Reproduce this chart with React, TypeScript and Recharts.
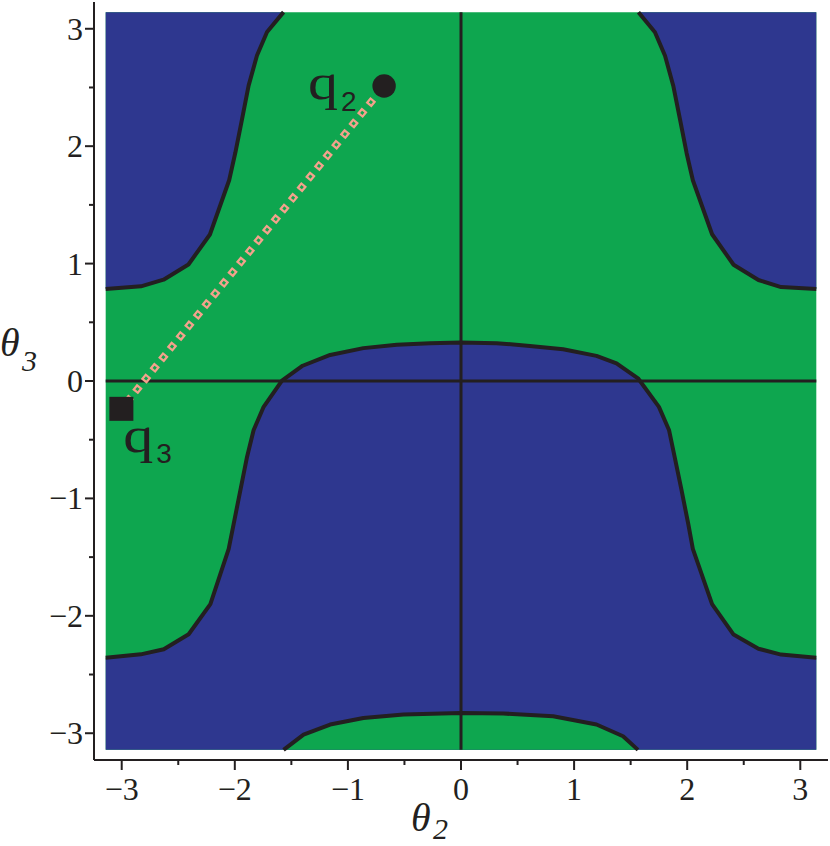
import React from 'react';
import { ComposedChart, Area, Line, Scatter, XAxis, YAxis } from 'recharts';

// ---------- data ----------
const regionMin = -3.1416;
const regionMax = 3.1416;
const regionX = [-3.1416, 3.1416];
const regionTop = [3.1416, 3.1416];

// upper boundary (top blue corners / green)
const topCurveX = [-3.1416, -2.83, -2.63, -2.41, -2.22, -2.05, -1.995, -1.936, -1.878, -1.804, -1.715, -1.569, 0, 1.569, 1.715, 1.804, 1.878, 1.936, 1.995, 2.05, 2.22, 2.41, 2.63, 2.83, 3.1416];
const topCurveY = [0.784, 0.806, 0.863, 0.992, 1.248, 1.71, 1.946, 2.231, 2.516, 2.772, 2.972, 3.1416, null, 3.1416, 2.97, 2.77, 2.51, 2.23, 1.94, 1.71, 1.25, 0.99, 0.86, 0.8, 0.784];

// middle boundary (central blue blob / green)
const midCurveX = [-3.1416, -2.831, -2.628, -2.408, -2.216, -2.054, -2.01, -1.951, -1.892, -1.834, -1.745, -1.583, -1.4, -1.157, -0.863, -0.568, -0.274, 0, 0.315, 0.609, 0.903, 1.198, 1.375, 1.565, 1.75, 1.84, 1.89, 1.95, 2.01, 2.05, 2.22, 2.41, 2.63, 2.83, 3.1416];
const midCurveY = [-2.357, -2.328, -2.285, -2.157, -1.9, -1.43, -1.216, -0.932, -0.647, -0.419, -0.22, 0.003, 0.13, 0.222, 0.28, 0.308, 0.322, 0.327, 0.322, 0.299, 0.271, 0.214, 0.151, 0.023, -0.22, -0.42, -0.65, -0.93, -1.22, -1.43, -1.9, -2.16, -2.28, -2.33, -2.357];

// bottom cap (green) boundary
const capCurveX = [-1.569, -1.392, -1.157, -0.863, -0.509, 0, 0.373, 0.815, 1.198, 1.433, 1.565];
const capCurveY = [-3.1416, -3.012, -2.926, -2.87, -2.841, -2.827, -2.832, -2.855, -2.926, -3.026, -3.1416];

// configurations
const q2Point = { x: -0.68, y: 2.513 };
const q3Point = { x: -3.003, y: -0.237 };

const axisTicks = [-3, -2.5, -2, -1.5, -1, -0.5, 0, 0.5, 1, 1.5, 2, 2.5, 3];
const xDomain = [-3.245, 3.245];
const yDomain = [-3.228, 3.228];

// ---------- styles ----------
const GREEN = '#0ea64f';
const BLUE = '#2e378f';
const INK = '#231f20';
const PINK = '#f4a28c';
const SERIF = '"Liberation Serif", "Times New Roman", serif';
const SANS = '"Liberation Sans", Arial, sans-serif';

const rows = (xs: number[], ys: (number | null)[]) => xs.map((x, i) => ({ x, y: ys[i] }));

const regionRows = rows(regionX, regionTop);
const topRows = rows(topCurveX, topCurveY);
const midRows = rows(midCurveX, midCurveY);
const capRows = rows(capCurveX, capCurveY);
const vAxisRows = [{ x: 0, y: regionMin }, { x: 0, y: regionMax }];
const hAxisRows = [{ x: regionMin, y: 0 }, { x: regionMax, y: 0 }];
const pathRows = [q3Point, q2Point];

const fmt = (v: number) => (v < 0 ? '\u2212' + Math.abs(v) : String(v));

const XTick = (props: any) => {
  const { x, y, payload } = props;
  const v = payload.value;
  const major = Number.isInteger(v);
  return (
    <g>
      <line x1={x} y1={y} x2={x} y2={y + (major ? 10 : 5)} stroke={INK} strokeWidth={2} />
      {major && (
        <text x={x} y={y + 40} textAnchor="middle" fontFamily={SERIF} fontSize={32} fill={INK}>
          {fmt(v)}
        </text>
      )}
    </g>
  );
};

const YTick = (props: any) => {
  const { x, y, payload } = props;
  const v = payload.value;
  const major = Number.isInteger(v);
  return (
    <g>
      <line x1={x - (major ? 9 : 5)} y1={y} x2={x} y2={y} stroke={INK} strokeWidth={2} />
      {major && (
        <text x={x - 11} y={y + 11} textAnchor="end" fontFamily={SERIF} fontSize={32} fill={INK}>
          {fmt(v)}
        </text>
      )}
    </g>
  );
};

const xTitle = (props: any) => {
  const vb = props.viewBox;
  const x0 = vb.x + vb.width / 2 - 50;
  const y0 = vb.y + 71;
  return (
    <g>
      <text x={x0} y={y0} fontFamily={SERIF} fontStyle="italic" fontSize={40} fill={INK}>θ</text>
      <text x={x0 + 22} y={y0 + 8} fontFamily={SERIF} fontStyle="italic" fontSize={30} fill={INK}>2</text>
    </g>
  );
};

const yTitle = (props: any) => {
  const vb = props.viewBox;
  const x0 = vb.x;
  const y0 = 356;
  return (
    <g>
      <text x={x0} y={y0} fontFamily={SERIF} fontStyle="italic" fontSize={40} fill={INK}>θ</text>
      <text x={x0 + 22} y={y0 + 15} fontFamily={SERIF} fontStyle="italic" fontSize={30} fill={INK}>3</text>
    </g>
  );
};

const Q2Shape = (props: any) => {
  const { cx, cy } = props;
  return (
    <g>
      <circle cx={cx} cy={cy} r={11.7} fill={INK} />
      <text x={cx - 76} y={cy + 13} fontFamily={SERIF} fontSize={50} fill={INK} transform={`translate(${cx - 76} 0) scale(1.2 1) translate(${-(cx - 76)} 0)`}>q</text>
      <text x={cx - 43} y={cy + 25} fontFamily={SANS} fontSize={28} fill={INK}>2</text>
    </g>
  );
};

const Q3Shape = (props: any) => {
  const { cx, cy } = props;
  return (
    <g>
      <rect x={cx - 12} y={cy - 12} width={24} height={24} fill={INK} />
      <text x={cx + 2} y={cy + 43} fontFamily={SERIF} fontSize={50} fill={INK} transform={`translate(${cx + 2} 0) scale(1.2 1) translate(${-(cx + 2)} 0)`}>q</text>
      <text x={cx + 35} y={cy + 54} fontFamily={SANS} fontSize={28} fill={INK}>3</text>
    </g>
  );
};

export default function App() {
  return (
    <div style={{ position: 'absolute', left: 0, top: 0, background: '#fff' }}>
      <ComposedChart width={830} height={846} margin={{ top: 2, right: 2, bottom: 0, left: 0 }}>
        <XAxis
          dataKey="x"
          type="number"
          domain={xDomain}
          ticks={axisTicks}
          interval={0}
          height={86}
          tickSize={0}
          tickMargin={0}
          tickLine={false}
          axisLine={{ stroke: INK, strokeWidth: 2 }}
          tick={<XTick />}
          label={xTitle}
        />
        <YAxis
          dataKey="y"
          type="number"
          domain={yDomain}
          ticks={axisTicks}
          interval={0}
          width={94}
          tickSize={0}
          tickMargin={0}
          tickLine={false}
          axisLine={{ stroke: INK, strokeWidth: 2 }}
          tick={<YTick />}
          label={yTitle}
        />
        <XAxis xAxisId="top" orientation="top" dataKey="x" type="number" domain={xDomain} height={0} tick={false} tickLine={false} axisLine={{ stroke: INK, strokeWidth: 2 }} />
        <YAxis yAxisId="right" orientation="right" dataKey="y" type="number" domain={yDomain} width={0} tick={false} tickLine={false} axisLine={{ stroke: INK, strokeWidth: 2 }} />

        <Area data={regionRows} dataKey="y" baseValue={regionMin} fill={GREEN} fillOpacity={1} stroke="none" dot={false} activeDot={false} isAnimationActive={false} />
        <Area data={midRows} dataKey="y" baseValue={regionMin} fill={BLUE} fillOpacity={1} stroke="none" dot={false} activeDot={false} isAnimationActive={false} />
        <Area data={capRows} dataKey="y" baseValue={regionMin} fill={GREEN} fillOpacity={1} stroke="none" dot={false} activeDot={false} isAnimationActive={false} />
        <Area data={topRows} dataKey="y" baseValue={regionMax} fill={BLUE} fillOpacity={1} stroke="none" dot={false} activeDot={false} isAnimationActive={false} />

        <Line data={topRows} dataKey="y" stroke={INK} strokeWidth={4} strokeLinejoin="round" dot={false} activeDot={false} isAnimationActive={false} />
        <Line data={midRows} dataKey="y" stroke={INK} strokeWidth={4} strokeLinejoin="round" dot={false} activeDot={false} isAnimationActive={false} />
        <Line data={capRows} dataKey="y" stroke={INK} strokeWidth={4} strokeLinejoin="round" dot={false} activeDot={false} isAnimationActive={false} />
        <Line data={vAxisRows} dataKey="y" stroke={INK} strokeWidth={3} dot={false} activeDot={false} isAnimationActive={false} />
        <Line data={hAxisRows} dataKey="y" stroke={INK} strokeWidth={3} dot={false} activeDot={false} isAnimationActive={false} />

        <Line data={pathRows} dataKey="y" stroke={PINK} strokeWidth={7.5} strokeDasharray="7.5 6.2" strokeDashoffset={-8} dot={false} activeDot={false} isAnimationActive={false} />
        <Line data={pathRows} dataKey="y" stroke={GREEN} strokeWidth={3} strokeDasharray="3 10.7" strokeDashoffset={-10.25} dot={false} activeDot={false} isAnimationActive={false} />

        <Scatter data={[q2Point]} dataKey="y" shape={<Q2Shape />} isAnimationActive={false} />
        <Scatter data={[q3Point]} dataKey="y" shape={<Q3Shape />} isAnimationActive={false} />
      </ComposedChart>
    </div>
  );
}
